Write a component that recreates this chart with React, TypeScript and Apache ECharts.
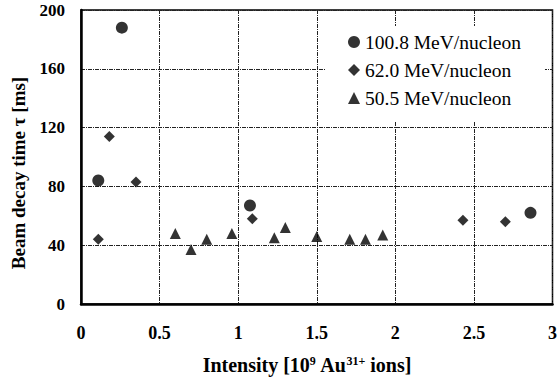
import React, { useEffect, useRef } from "react";
import * as echarts from "echarts";

const seriesNames = ["100.8 MeV/nucleon", "62.0 MeV/nucleon", "50.5 MeV/nucleon"];
const symbols = ["circle", "diamond", "triangle"];
const symbolSizes = [12, 11, 11];

const circleData: number[][] = [
  [0.11, 84],
  [0.26, 188],
  [1.075, 67],
  [2.86, 62],
];
const diamondData: number[][] = [
  [0.11, 44],
  [0.18, 114],
  [0.35, 83],
  [1.09, 58],
  [2.43, 57],
  [2.7, 56],
];
const triangleData: number[][] = [
  [0.6, 48],
  [0.7, 37],
  [0.8, 44],
  [0.96, 48],
  [1.23, 45],
  [1.3, 52],
  [1.5, 46],
  [1.71, 44],
  [1.81, 44],
  [1.92, 47],
];
const allData = [circleData, diamondData, triangleData];

const xTicks = { min: 0, max: 3, interval: 0.5 };
const yTicks = { min: 0, max: 200, interval: 40 };

const FONT = "Liberation Serif";

export default function App() {
  const ref = useRef<HTMLDivElement>(null);
  useEffect(() => {
    if (!ref.current) return;
    const chart = echarts.init(ref.current, undefined, { renderer: "svg" });
    const gridLine = {
      show: true,
      lineStyle: { color: "#222", width: 1, type: [4, 1, 1, 1] as any },
    };
    chart.setOption({
      animation: false,
      backgroundColor: "#fff",
      grid: {
        left: 81,
        right: 2,
        top: 10,
        bottom: 73,
        show: true,
        borderColor: "#000",
        borderWidth: 1.5,
        backgroundColor: "transparent",
      },
      xAxis: {
        type: "value",
        min: xTicks.min,
        max: xTicks.max,
        interval: xTicks.interval,
        axisLine: { show: true, lineStyle: { color: "#000", width: 2.5 } },
        axisTick: { show: false },
        splitLine: gridLine,
        axisLabel: {
          color: "#000",
          fontFamily: FONT,
          fontSize: 18,
          fontWeight: "bold",
          margin: 20,
          showMaxLabel: true,
          formatter: (v: number) => String(v),
        },
      },
      yAxis: {
        type: "value",
        min: yTicks.min,
        max: yTicks.max,
        interval: yTicks.interval,
        axisLine: { show: true, lineStyle: { color: "#000", width: 2.5 } },
        axisTick: { show: false },
        splitLine: gridLine,
        axisLabel: {
          color: "#000",
          fontFamily: FONT,
          fontSize: 17,
          fontWeight: "bold",
          margin: 16,
        },
      },
      legend: {
        show: true,
        orient: "vertical",
        left: 326,
        top: 26,
        itemWidth: 12,
        itemHeight: 12,
        itemGap: 8,
        padding: [6, 24, 13, 22],
        backgroundColor: "#fff",
        data: seriesNames.map((n, i) => ({ name: n, icon: symbols[i] })),
        textStyle: { color: "#000", fontFamily: FONT, fontSize: 19.5 },
      },
      series: seriesNames.map((name, i) => ({
        name,
        type: "scatter",
        symbol: symbols[i],
        symbolSize: symbolSizes[i],
        itemStyle: { color: "#000" },
        data: allData[i],
      })),
      graphic: [
        {
          type: "text",
          x: 18,
          y: 173,
          rotation: Math.PI / 2,
          style: {
            text: "Beam decay time τ [ms]",
            fill: "#000",
            fontFamily: FONT,
            fontWeight: "bold",
            fontSize: 19,
            align: "center",
            verticalAlign: "middle",
          },
        },
        {
          type: "text",
          x: 307,
          y: 365,
          style: {
            text: "{b|Intensity [10}{s|9}{b| Au}{s|31+}{b| ions]}",
            align: "center",
            verticalAlign: "middle",
            rich: {
              b: { fontFamily: FONT, fontWeight: "bold", fontSize: 20, fill: "#000" },
              s: {
                fontFamily: FONT,
                fontWeight: "bold",
                fontSize: 12,
                fill: "#000",
                verticalAlign: "top",
                padding: [0, 0, 8, 0],
              },
            },
          },
        },
      ],
    });
    return () => chart.dispose();
  }, []);
  return (
    <div
      ref={ref}
      style={{ position: "absolute", left: 0, top: 0, width: 560, height: 377 }}
    />
  );
}
